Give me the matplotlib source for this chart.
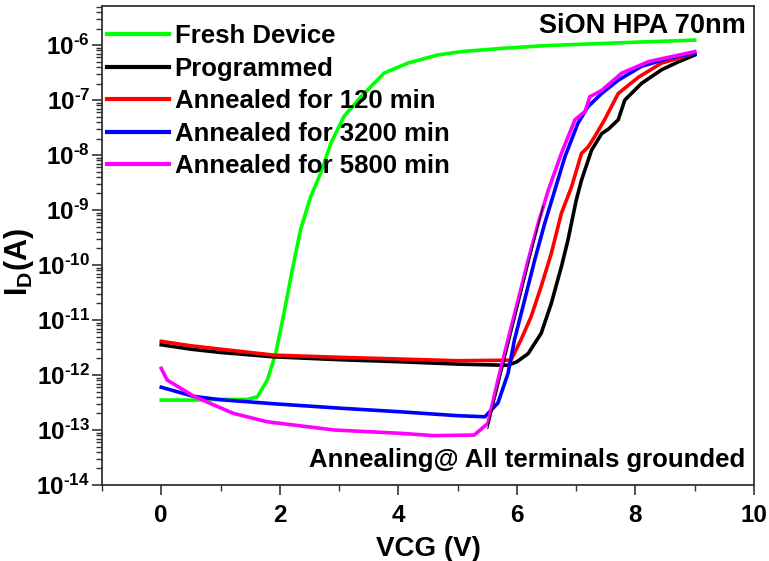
import math
import matplotlib
matplotlib.use("Agg")
import matplotlib.pyplot as plt
from matplotlib.ticker import LogLocator, FuncFormatter, MultipleLocator, NullFormatter

plt.rcParams['font.family'] = ['Liberation Sans', 'DejaVu Sans']
plt.rcParams['font.weight'] = 'bold'
plt.rcParams['mathtext.fontset'] = 'custom'
plt.rcParams['mathtext.rm'] = 'Liberation Sans:bold'
plt.rcParams['mathtext.bf'] = 'Liberation Sans:bold'
plt.rcParams['mathtext.it'] = 'Liberation Sans:bold'

# Transfer characteristics, drain current (A) versus control-gate voltage (V)
fresh_v = [0, 0.5, 1.0, 1.45, 1.62, 1.79, 1.93, 2.07, 2.21, 2.35, 2.52, 2.69, 2.86,
           3.08, 3.37, 3.76, 4.16, 4.66, 5.06, 5.74, 6.5, 7.43, 8.2, 9.0]
fresh_i = [3.5e-13, 3.5e-13, 3.6e-13, 3.6e-13, 4.0e-13, 8.1e-13, 2.45e-12, 1.32e-11,
           8.1e-11, 4.4e-10, 1.74e-9, 4.7e-9, 1.62e-8, 5.0e-8, 1.15e-7, 3.1e-7, 4.7e-7,
           6.6e-7, 7.6e-7, 8.7e-7, 9.8e-7, 1.07e-6, 1.15e-6, 1.23e-6]

prog_v = [0, 0.5, 1.0, 1.9, 3.0, 4.04, 5.0, 5.74, 5.85, 6.0, 6.19, 6.41, 6.58, 6.75,
          6.86, 7.0, 7.09, 7.26, 7.43, 7.55, 7.71, 7.82, 8.10, 8.44, 8.73, 9.0]
prog_i = [3.55e-12, 2.95e-12, 2.57e-12, 2.14e-12, 1.9e-12, 1.74e-12, 1.58e-12, 1.51e-12,
          1.51e-12, 1.74e-12, 2.45e-12, 5.75e-12, 2.0e-11, 9.3e-11, 2.8e-10, 1.5e-9,
          3.5e-9, 1.23e-8, 2.45e-8, 3.0e-8, 4.4e-8, 1.0e-7, 2.0e-7, 3.55e-7, 5.0e-7, 6.6e-7]

ann120_v = [0, 0.5, 1.0, 1.9, 3.0, 4.04, 5.0, 5.9, 6.07, 6.24, 6.41, 6.58, 6.75, 6.92,
            7.09, 7.2, 7.31, 7.48, 7.71, 8.05, 8.44, 9.0]
ann120_i = [4.1e-12, 3.4e-12, 2.95e-12, 2.3e-12, 2.1e-12, 1.95e-12, 1.82e-12, 1.86e-12,
            4.4e-12, 1.15e-11, 4.1e-11, 1.62e-10, 8.7e-10, 2.6e-9, 1.07e-8, 1.4e-8,
            2.14e-8, 4.4e-8, 1.32e-7, 2.6e-7, 4.7e-7, 7.1e-7]

ann3200_v = [0, 0.54, 1.0, 1.9, 3.0, 4.04, 5.0, 5.46, 5.68, 5.85, 5.96, 6.13, 6.30, 6.47,
             6.64, 6.81, 7.03, 7.20, 7.43, 7.71, 8.10, 8.56, 9.0]
ann3200_i = [6.0e-13, 4.1e-13, 3.55e-13, 3.0e-13, 2.5e-13, 2.14e-13, 1.82e-13, 1.74e-13,
             3.1e-13, 1.07e-12, 4.4e-12, 2.3e-11, 1.23e-10, 5.75e-10, 2.3e-9, 9.3e-9,
             3.8e-8, 7.6e-8, 1.32e-7, 2.3e-7, 4.1e-7, 5.75e-7, 7.1e-7]

ann5800_v = [0, 0.1, 0.55, 1.22, 1.79, 2.92, 4.04, 4.6, 5.28, 5.51, 5.68, 5.85, 6.02,
             6.19, 6.36, 6.53, 6.75, 6.98, 7.15, 7.23, 7.43, 7.77, 8.22, 9.0]
ann5800_i = [1.32e-12, 8.1e-13, 4.1e-13, 2.0e-13, 1.41e-13, 1.0e-13, 8.7e-14, 7.9e-14,
             8.1e-14, 1.32e-13, 8.1e-13, 4.4e-12, 2.3e-11, 1.23e-10, 5.75e-10, 2.3e-9,
             1.07e-8, 4.4e-8, 6.2e-8, 1.15e-7, 1.5e-7, 3.1e-7, 5.0e-7, 7.6e-7]

# short extra sweep segment recorded alongside the 5800 min curve
extra_v = [5.51, 5.95, 6.44]
extra_i = [1.07e-13, 8.7e-12, 1.17e-9]

labels = ["Fresh Device", "Programmed", "Annealed for 120 min",
          "Annealed for 3200 min", "Annealed for 5800 min"]
colors = ["#00FF00", "#000000", "#FF0000", "#0000FF", "#FF00FF"]

fig = plt.figure(figsize=(7.69, 5.61), dpi=100)
ax = fig.add_axes([0.1326, 0.1355, 0.8479, 0.8535])

series = [(fresh_v, fresh_i), (prog_v, prog_i), (ann120_v, ann120_i),
          (ann3200_v, ann3200_i), (ann5800_v, ann5800_i)]
for (v, i), lab, c in zip(series, labels, colors):
    ax.plot(v, i, color=c, lw=2.6, label=lab)
ax.plot(extra_v, extra_i, color='black', lw=0.8)

ax.set_yscale('log')
ax.set_xlim(-1, 10)
ax.set_ylim(1e-14, 5.1e-6)


def decade_label(y, pos):
    exp = int(round(math.log10(y)))
    sign = '\u2010' if exp < 0 else ''
    return r'$\mathbf{10^{%s%d}}$' % (sign, abs(exp))


ax.xaxis.set_major_locator(MultipleLocator(2))
ax.xaxis.set_minor_locator(MultipleLocator(1))
ax.yaxis.set_major_locator(LogLocator(base=10, numticks=20))
ax.yaxis.set_minor_locator(LogLocator(base=10, subs=range(2, 10), numticks=20))
ax.yaxis.set_minor_formatter(NullFormatter())
ax.yaxis.set_major_formatter(FuncFormatter(decade_label))

spine_c = '#333333'
for s in ax.spines.values():
    s.set_color(spine_c)
    s.set_linewidth(1.3)
ax.tick_params(which='major', direction='out', length=7, width=1.2, color=spine_c,
               labelsize=17.5)
ax.tick_params(axis='x', which='major', pad=7)
ax.tick_params(axis='y', which='major', pad=1.5)
ax.tick_params(which='minor', direction='out', length=4, width=1.0, color=spine_c)
for lab in ax.get_xticklabels() + ax.get_yticklabels():
    lab.set_fontweight('bold')

ax.set_xlabel("VCG (V)", fontsize=20, fontweight='bold', labelpad=6)
ax.set_ylabel(r'$\mathbf{I_{D}(A)}$', fontsize=22)
ax.yaxis.set_label_coords(-0.101, 0.466)

leg = ax.legend(loc='upper left', bbox_to_anchor=(0.008, 0.962), frameon=False,
                prop={'size': 18.5, 'weight': 'bold'}, handlelength=2.4,
                handletextpad=0.22, labelspacing=0.33, borderpad=0, borderaxespad=0)
for h in leg.get_lines():
    h.set_linewidth(3)

ax.text(0.988, 0.9436, "SiON HPA 70nm", transform=ax.transAxes, ha='right',
        va='baseline', fontsize=19.5, fontweight='bold')
ax.text(0.986, 0.0382, "Annealing@ All terminals grounded", transform=ax.transAxes,
        ha='right', va='baseline', fontsize=18.5, fontweight='bold')

fig.savefig("out.png", dpi=100)
